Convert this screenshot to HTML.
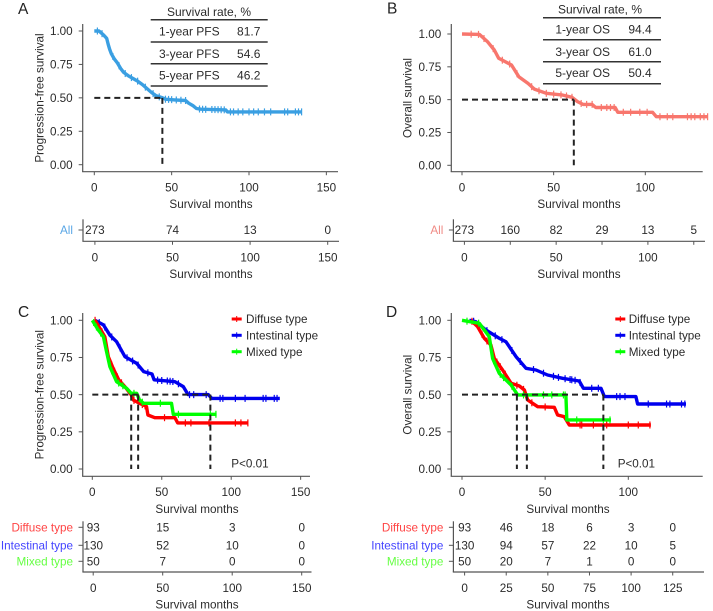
<!DOCTYPE html>
<html lang="en">
<head>
<meta charset="utf-8">
<title>Kaplan-Meier survival curves</title>
<style>
  html, body { margin: 0; padding: 0; background: #fff; }
  svg { display: block; font-family: "Liberation Sans", Arial, sans-serif; fill: #2b2b2b; }
  .t { font-size: 11.7px; }
  .tb { font-size: 12px; }
  .lt { font-size: 15.5px; fill: #222; }
  .r { stroke: #333; stroke-width: 1.5; }
</style>
</head>
<body>
<svg id="fig" xmlns="http://www.w3.org/2000/svg" width="713" height="611" viewBox="0 0 713 611">
  <rect width="713" height="611" fill="#fff"/>

  <g>
    <text class="lt" x="18" y="14">A</text>
    <text class="lt" x="387" y="13.5">B</text>
    <text class="lt" x="18" y="317">C</text>
    <text class="lt" x="386" y="317">D</text>
  </g>

  <g>
    <text class="t" text-anchor="middle" transform="translate(43.5 98) rotate(-90)">Progression-free survival</text>
    <text class="t" text-anchor="middle" transform="translate(411.5 98) rotate(-90)">Overall survival</text>
    <text class="t" text-anchor="middle" transform="translate(43.5 394.7) rotate(-90)">Progression-free survival</text>
    <text class="t" text-anchor="middle" transform="translate(411.5 394.7) rotate(-90)">Overall survival</text>
    <text class="t" text-anchor="middle" x="211" y="208.2">Survival months</text>
    <text class="t" text-anchor="middle" x="579" y="208.2">Survival months</text>
    <text class="t" text-anchor="middle" x="197" y="513.2">Survival months</text>
    <text class="t" text-anchor="middle" x="568" y="513.2">Survival months</text>
    <text class="t" text-anchor="middle" x="211" y="277.9">Survival months</text>
    <text class="t" text-anchor="middle" x="579" y="277.9">Survival months</text>
    <text class="t" text-anchor="middle" x="197" y="608.5">Survival months</text>
    <text class="t" text-anchor="middle" x="568" y="608.5">Survival months</text>
  </g>

  <g>
    <text class="tb" text-anchor="middle" x="209" y="16">Survival rate, %</text>
    <line class="r" x1="150.7" x2="267.7" y1="19.7" y2="19.7"/>
    <text class="tb" text-anchor="middle" x="189.3" y="35.5">1-year PFS</text>
    <text class="tb" text-anchor="middle" x="248.7" y="35.5">81.7</text>
    <line class="r" x1="150.7" x2="267.7" y1="42" y2="42"/>
    <text class="tb" text-anchor="middle" x="189.3" y="57.9">3-year PFS</text>
    <text class="tb" text-anchor="middle" x="248.7" y="57.9">54.6</text>
    <line class="r" x1="150.7" x2="267.7" y1="63.7" y2="63.7"/>
    <text class="tb" text-anchor="middle" x="189.3" y="79.5">5-year PFS</text>
    <text class="tb" text-anchor="middle" x="248.7" y="79.5">46.2</text>
    <line class="r" x1="150.7" x2="267.7" y1="86" y2="86"/>
  </g>

  <g>
    <text class="tb" text-anchor="middle" x="600" y="13.5">Survival rate, %</text>
    <line class="r" x1="543" x2="661" y1="17.7" y2="17.7"/>
    <text class="tb" text-anchor="middle" x="582.7" y="33.5">1-year OS</text>
    <text class="tb" text-anchor="middle" x="640" y="33.5">94.4</text>
    <line class="r" x1="543" x2="661" y1="39.7" y2="39.7"/>
    <text class="tb" text-anchor="middle" x="582.7" y="55.9">3-year OS</text>
    <text class="tb" text-anchor="middle" x="640" y="55.9">61.0</text>
    <line class="r" x1="543" x2="661" y1="61.7" y2="61.7"/>
    <text class="tb" text-anchor="middle" x="582.7" y="77.2">5-year OS</text>
    <text class="tb" text-anchor="middle" x="640" y="77.2">50.4</text>
    <line class="r" x1="543" x2="661" y1="83.7" y2="83.7"/>
  </g>

  <g>
    <g>
      <line x1="231.7" x2="241.7" y1="319" y2="319" stroke="#f00" stroke-width="3"/><line x1="236.7" x2="236.7" y1="316" y2="322" stroke="#f00" stroke-width="1"/>
      <text class="t" x="246" y="323.2">Diffuse type</text>
    </g>
    <g>
      <line x1="231.7" x2="241.7" y1="335.3" y2="335.3" stroke="#0000f0" stroke-width="3"/><line x1="236.7" x2="236.7" y1="332.3" y2="338.3" stroke="#0000f0" stroke-width="1"/>
      <text class="t" x="246" y="339.5">Intestinal type</text>
    </g>
    <g>
      <line x1="231.7" x2="241.7" y1="351.7" y2="351.7" stroke="#0f0" stroke-width="3"/><line x1="236.7" x2="236.7" y1="348.7" y2="354.7" stroke="#0f0" stroke-width="1"/>
      <text class="t" x="246" y="355.9">Mixed type</text>
    </g>
    <text class="t" x="231.3" y="467.5">P&lt;0.01</text>
  </g>

  <g>
    <g>
      <line x1="615.3" x2="625.3" y1="319" y2="319" stroke="#f00" stroke-width="3"/><line x1="620.3" x2="620.3" y1="316" y2="322" stroke="#f00" stroke-width="1"/>
      <text class="t" x="628.7" y="323.2">Diffuse type</text>
    </g>
    <g>
      <line x1="615.3" x2="625.3" y1="335.3" y2="335.3" stroke="#0000f0" stroke-width="3"/><line x1="620.3" x2="620.3" y1="332.3" y2="338.3" stroke="#0000f0" stroke-width="1"/>
      <text class="t" x="628.7" y="339.5">Intestinal type</text>
    </g>
    <g>
      <line x1="615.3" x2="625.3" y1="351.7" y2="351.7" stroke="#0f0" stroke-width="3"/><line x1="620.3" x2="620.3" y1="348.7" y2="354.7" stroke="#0f0" stroke-width="1"/>
      <text class="t" x="628.7" y="355.9">Mixed type</text>
    </g>
    <text class="t" x="617.7" y="467.5">P&lt;0.01</text>
  </g>
</svg>

<script>
// ---------- chart data ----------
const yTicks = [0, 0.25, 0.5, 0.75, 1];
const yTickLabels = ['0.00', '0.25', '0.50', '0.75', '1.00'];
const xTicksAC = [0, 50, 100, 150];
const xTicksBD = [0, 50, 100];
const riskTicksB = [0, 25, 50, 75, 100, 125];
const riskLabelTicksB = [0, 50, 100];
const riskTicksD = [0, 25, 50, 75, 100, 125];

const pfsAllTime = [0,3,4,6,8,9,10,11,13,15,17,19,22,25,28,31,34,37,40,44,46,52,59,61,64,66,69,85,86,134];
const pfsAllSurv = [1,1,.99,.97,.945,.90,.86,.83,.79,.76,.72,.69,.665,.645,.625,.60,.57,.54,.515,.50,.49,.485,.48,.46,.44,.42,.415,.41,.395,.395];
const pfsAllCens = [2,5,9,12,16,20,24,28,33,38,42,46,48,50,53,56,59,68,70,72,76,78,80,82,84,88,90,93,96,100,103,106,110,114,123,125,130,132,134];

const osAllTime = [0,9.5,14,17.6,20,27,31,36,39.5,46,55,60,63,66,71,73,83.6,85,104,106,134];
const osAllSurv = [1,.997,.94,.878,.815,.764,.675,.624,.58,.548,.535,.518,.485,.464,.464,.44,.44,.404,.404,.37,.37];
const osAllCens = [5,9,12,17,22,26,30,38,42,46,50,54,57,60,65,68,71,76,79,81,83,88,92,97,101,108,112,115,123,125,127,130,132,134];

const pfsDiffuseTime = [2,5.5,9,11.5,15,19,23.5,28,29.5,34,39,40,45,59.5,61.5,112];
const pfsDiffuseSurv = [1,.946,.89,.755,.677,.60,.554,.498,.464,.442,.42,.363,.345,.345,.31,.31];
const pfsDiffuseCens = [2,7,12,14,16,18,21,30,36,38,52,67,71,84,103,107,112];
const pfsIntestTime = [2,8,12.7,17.5,23.5,32,37,43,44.5,59.5,65.5,69,83.5,86,135];
const pfsIntestSurv = [1,.969,.90,.856,.756,.71,.655,.639,.60,.587,.554,.50,.50,.475,.475];
const pfsIntestCens = [5,9,14,20,25,29,33,40,47,50,54,56,58,62,70,73,82,92,94,103,110,123,125,131,133];
const pfsMixedTime = [0,4.3,8,10,12.7,17.5,24.7,28,32,34,37,57,58.3,89.5];
const pfsMixedSurv = [1,.935,.89,.80,.688,.587,.543,.509,.509,.464,.442,.442,.368,.368];
const pfsMixedCens = [1,3,6,9,12,14,19,22,30,36,49,62,85,89];
const pfsMedians = [28, 33, 85];

const osDiffuseTime = [5.4,9.4,13.4,17.4,19.4,24.4,29.5,34.5,37.5,39.5,45.5,55.5,57.5,61.5,64.5,113.6];
const osDiffuseSurv = [1,.957,.879,.834,.744,.666,.576,.558,.531,.464,.419,.415,.363,.352,.296,.296];
const osDiffuseCens = [6,12,15,21,23,26,33,37,42,50,71,72,79,87,100,106,113];
const osIntestTime = [4.4,8.4,14.4,22.4,26.4,32.5,38.5,44.5,51.5,60.5,70.5,73,83.6,85.6,104.6,105.6,134.7];
const osIntestSurv = [1,.99,.935,.879,.856,.756,.677,.666,.632,.61,.592,.543,.543,.487,.487,.437,.437];
const osIntestCens = [7,15,20,24,30,35,43,49,55,58,62,65,66,68,71,78,82,93,95,98,112,123,125,132,134];
const osMixedTime = [0,10.4,16.4,18.4,22.4,29.5,33.5,62.5,63,89.6];
const osMixedSurv = [1,.98,.89,.744,.643,.565,.498,.498,.33,.33];
const osMixedCens = [3,10,17,19,23,25,30,37,49,54,61,62,69,85,89];
const osMedians = [33, 39, 85];

const riskRowA = ['273', '74', '13', '0'];
const riskRowB = ['273', '160', '82', '29', '13', '5'];
const riskDiffuseC = ['93', '15', '3', '0'];
const riskIntestC = ['130', '52', '10', '0'];
const riskMixedC = ['50', '7', '0', '0'];
const riskDiffuseD = ['93', '46', '18', '6', '3', '0'];
const riskIntestD = ['130', '94', '57', '22', '10', '5'];
const riskMixedD = ['50', '20', '7', '1', '0', '0'];

// ---------- drawing helpers ----------
const svg = document.getElementById('fig');
const NS = 'http://www.w3.org/2000/svg';
const AXIS = '#555';

function add(parent, tag, name, props, txt) {
  const el = document.createElementNS(NS, tag);
  
  
  for (const k in props) el.setAttribute(k, props[k]);
  if (txt !== undefined) el.textContent = txt;
  parent.appendChild(el);
  return el;
}
function seg(parent, name, x1, y1, x2, y2, color, w, extra) {
  return add(parent, 'line', name, Object.assign({ x1, y1, x2, y2, stroke: color, 'stroke-width': w }, extra || {}));
}
function label(parent, name, x, yc, txt, anchor, fill) {
  return add(parent, 'text', name, { x, y: yc + 4.2, 'text-anchor': anchor || 'middle', 'font-size': 11.7, fill: fill || '#2b2b2b' }, txt);
}
function survAt(time, surv, t) {
  if (t <= time[0]) return surv[0];
  for (let i = 1; i < time.length; i++) {
    if (t <= time[i]) {
      const f = (t - time[i - 1]) / (time[i] - time[i - 1] || 1);
      return surv[i - 1] + f * (surv[i] - surv[i - 1]);
    }
  }
  return surv[surv.length - 1];
}
function drawPanel(p) {
  const g = add(svg, 'g', 'panel-' + p.id, {});
  const sx = t => p.x0 + t * p.xs;
  const sy = s => p.y0 - s * p.ys;

  for (const c of p.series) {
    const sg = add(g, 'g', 'series-' + c.name, {});
    const pts = c.time.map((t, i) => sx(t).toFixed(1) + ',' + sy(c.surv[i]).toFixed(1)).join(' ');
    add(sg, 'polyline', 'curve-' + c.name, { points: pts, fill: 'none', stroke: c.color, 'stroke-width': 3.4, 'stroke-linejoin': 'round', 'stroke-linecap': 'butt' });
    for (const t of c.cens) {
      const y = sy(survAt(c.time, c.surv, t));
      seg(sg, 'censor-mark', sx(t), y - 3.5, sx(t), y + 3.5, c.color, 1.2);
    }
  }

  const dash = { 'stroke-dasharray': '6 4' };
  const maxMedian = Math.max.apply(null, p.medians);
  seg(g, 'median-reference-line', sx(0), sy(0.5), sx(maxMedian), sy(0.5), '#222', 2, dash);
  for (const m of p.medians) {
    seg(g, 'median-drop-line', sx(m), sy(0.5), sx(m), sy(0), '#222', 2, dash);
  }

  seg(g, 'y-axis', p.ax, p.top, p.ax, p.bottom, AXIS, 1.2);
  seg(g, 'x-axis', p.ax - 0.6, p.bottom, p.right, p.bottom, AXIS, 1.2);
  yTicks.forEach((v, i) => {
    seg(g, 'y-tick', p.ax - 4, sy(v), p.ax, sy(v), AXIS, 1);
    label(g, 'y-tick-label', p.ax - 10, sy(v), yTickLabels[i], 'end');
  });
  p.xTicks.forEach(v => {
    seg(g, 'x-tick', sx(v), p.bottom, sx(v), p.bottom + 3.5, AXIS, 1);
    label(g, 'x-tick-label', sx(v), p.bottom + 15.7, String(v));
  });
}
function drawRisk(r) {
  const g = add(svg, 'g', 'risk-table-' + r.id, {});
  const sx = t => r.x0 + t * r.xs;
  seg(g, 'risk-y-axis', r.ax, r.top, r.ax, r.bottom, AXIS, 1.2);
  seg(g, 'risk-x-axis', r.ax - 0.6, r.bottom, r.right, r.bottom, AXIS, 1.2);
  r.ticks.forEach(v => seg(g, 'risk-x-tick', sx(v), r.bottom, sx(v), r.bottom + 3.5, AXIS, 1));
  r.labelTicks.forEach(v => label(g, 'risk-x-tick-label', sx(v), r.bottom + 16, String(v)));
  r.rows.forEach(row => {
    seg(g, 'risk-row-tick', r.ax - 4.5, row.y, r.ax, row.y, AXIS, 1);
    label(g, 'risk-row-label', r.ax - 10, row.y, row.name, 'end', row.color);
    row.values.forEach((val, i) => {
      label(g, 'risk-count', sx(r.ticks[i]), row.y, val);
    });
  });
}

const RED = '#f00', BLUE = '#0000ee', GREEN = '#0f0';

drawPanel({ id: 'a', x0: 94.3, xs: 1.547, y0: 164.7, ys: 133.7, ax: 82.7, top: 24, bottom: 171.7, right: 338,
  xTicks: xTicksAC, medians: [44],
  series: [{ name: 'all-pfs', color: '#3a9fe2', time: pfsAllTime, surv: pfsAllSurv, cens: pfsAllCens }] });
drawPanel({ id: 'b', x0: 462, xs: 1.833, y0: 165.3, ys: 131.3, ax: 451.3, top: 24, bottom: 171.7, right: 702.7,
  xTicks: xTicksBD, medians: [61],
  series: [{ name: 'all-os', color: '#f8766d', time: osAllTime, surv: osAllSurv, cens: osAllCens }] });
drawPanel({ id: 'c', x0: 92.3, xs: 1.389, y0: 469, ys: 148.7, ax: 82.7, top: 313, bottom: 476.3, right: 310,
  xTicks: xTicksAC, medians: pfsMedians,
  series: [
    { name: 'intestinal', color: BLUE, time: pfsIntestTime, surv: pfsIntestSurv, cens: pfsIntestCens },
    { name: 'diffuse', color: RED, time: pfsDiffuseTime, surv: pfsDiffuseSurv, cens: pfsDiffuseCens },
    { name: 'mixed', color: GREEN, time: pfsMixedTime, surv: pfsMixedSurv, cens: pfsMixedCens }
  ] });
drawPanel({ id: 'd', x0: 462, xs: 1.663, y0: 469, ys: 148.7, ax: 451.3, top: 313, bottom: 476.3, right: 702.7,
  xTicks: xTicksBD, medians: osMedians,
  series: [
    { name: 'intestinal', color: BLUE, time: osIntestTime, surv: osIntestSurv, cens: osIntestCens },
    { name: 'diffuse', color: RED, time: osDiffuseTime, surv: osDiffuseSurv, cens: osDiffuseCens },
    { name: 'mixed', color: GREEN, time: osMixedTime, surv: osMixedSurv, cens: osMixedCens }
  ] });

drawRisk({ id: 'a', x0: 94.9, xs: 1.552, ax: 83, top: 219.3, bottom: 241.3, right: 339,
  ticks: xTicksAC, labelTicks: xTicksAC,
  rows: [{ name: 'All', color: '#5aa7e6', y: 230, values: riskRowA }] });
drawRisk({ id: 'b', x0: 464.4, xs: 1.835, ax: 453.4, top: 219.3, bottom: 241.3, right: 705,
  ticks: riskTicksB, labelTicks: riskLabelTicksB,
  rows: [{ name: 'All', color: '#f08a84', y: 230, values: riskRowB }] });
drawRisk({ id: 'c', x0: 93.2, xs: 1.39, ax: 83, top: 521.3, bottom: 572, right: 311.5,
  ticks: xTicksAC, labelTicks: xTicksAC,
  rows: [
    { name: 'Diffuse type', color: '#f44', y: 527.3, values: riskDiffuseC },
    { name: 'Intestinal type', color: '#44f', y: 545.3, values: riskIntestC },
    { name: 'Mixed type', color: '#6f4', y: 561.3, values: riskMixedC }
  ] });
drawRisk({ id: 'd', x0: 464.6, xs: 1.665, ax: 453.4, top: 521.3, bottom: 572, right: 704,
  ticks: riskTicksD, labelTicks: riskTicksD,
  rows: [
    { name: 'Diffuse type', color: '#f44', y: 527.3, values: riskDiffuseD },
    { name: 'Intestinal type', color: '#44f', y: 545.3, values: riskIntestD },
    { name: 'Mixed type', color: '#6f4', y: 561.3, values: riskMixedD }
  ] });
</script>
</body>
</html>
